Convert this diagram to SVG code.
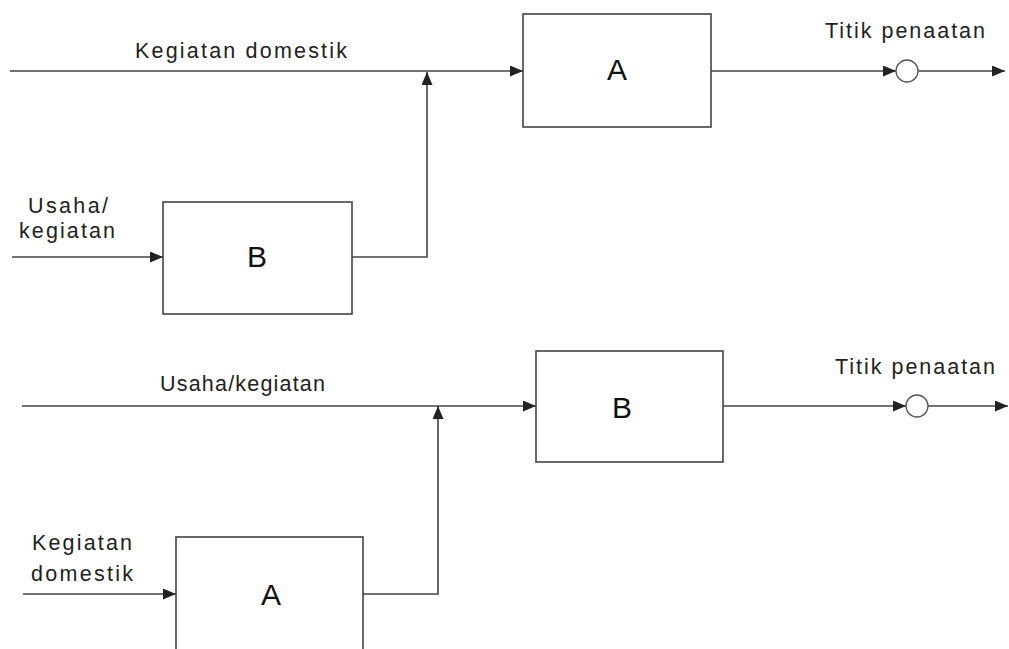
<svg xmlns="http://www.w3.org/2000/svg" width="1009" height="649" viewBox="0 0 1009 649">
<defs>
<style>
.box{fill:#fff;stroke:#444;stroke-width:1.6}
.ln{fill:none;stroke:#444;stroke-width:1.6}
.arr{marker-end:url(#ah)}
.t{font-family:"Liberation Sans",Arial,sans-serif;fill:#222;font-size:21.5px}
.big{font-family:"Liberation Sans",Arial,sans-serif;fill:#111;font-size:30px;text-anchor:middle}
.pt{fill:#fff;stroke:#555;stroke-width:1.3}
</style>
<marker id="ah" markerWidth="14" markerHeight="11" refX="13" refY="5.5" orient="auto" markerUnits="userSpaceOnUse">
<path d="M0,0 L13,5.5 L0,11 Z" fill="#222"/>
</marker>
</defs>
<rect width="1009" height="649" fill="#fff"/>
<g id="connectors">
<path class="ln arr" d="M10,71 H523"/>
<path class="ln arr" d="M12,257 H163"/>
<path class="ln arr" d="M352,257 H427 V72"/>
<path class="ln arr" d="M711,71 H896"/>
<path class="ln arr" d="M918,71 H1005"/>
<path class="ln arr" d="M22,406 H536"/>
<path class="ln arr" d="M23,594 H176"/>
<path class="ln arr" d="M363,594 H438 V406"/>
<path class="ln arr" d="M723,406 H906"/>
<path class="ln arr" d="M928,406 H1008"/>
</g>
<g id="node-A-top">
<rect class="box" x="523" y="14" width="188" height="113"/>
<text class="big" x="617" y="80">A</text>
</g>
<g id="node-B-top">
<rect class="box" x="163" y="202" width="189" height="112"/>
<text class="big" x="257" y="267">B</text>
</g>
<g id="node-B-bottom">
<rect class="box" x="536" y="351" width="187" height="111"/>
<text class="big" x="622" y="418">B</text>
</g>
<g id="node-A-bottom">
<rect class="box" x="176" y="537" width="187" height="120"/>
<text class="big" x="271" y="605">A</text>
</g>
<g id="point-top">
<circle class="pt" cx="907" cy="71" r="11"/>
</g>
<g id="point-bottom">
<circle class="pt" cx="917" cy="406" r="11"/>
</g>
<g id="labels">
<text class="t" x="135" y="58" textLength="212" lengthAdjust="spacing">Kegiatan domestik</text>
<text class="t" x="825" y="38" textLength="160" lengthAdjust="spacing">Titik penaatan</text>
<text class="t" x="28" y="213" textLength="80" lengthAdjust="spacing">Usaha/</text>
<text class="t" x="19" y="238" textLength="96" lengthAdjust="spacing">kegiatan</text>
<text class="t" x="160" y="391" textLength="165" lengthAdjust="spacing">Usaha/kegiatan</text>
<text class="t" x="835" y="374" textLength="160" lengthAdjust="spacing">Titik penaatan</text>
<text class="t" x="32" y="550" textLength="100" lengthAdjust="spacing">Kegiatan</text>
<text class="t" x="31" y="581" textLength="102" lengthAdjust="spacing">domestik</text>
</g>
</svg>
